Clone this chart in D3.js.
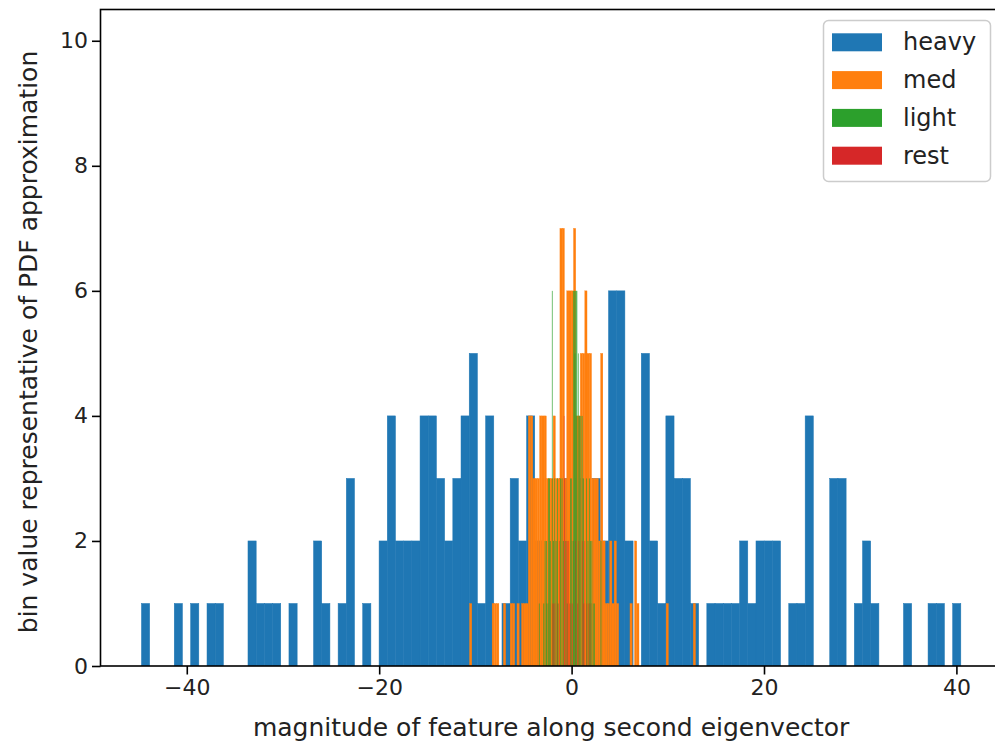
<!DOCTYPE html>
<html>
<head>
<meta charset="utf-8">
<script src="https://cdn.jsdelivr.net/npm/d3@7"></script>
<style>
  body { margin: 0; background: #fff; }
  svg { display: block; font-family: "DejaVu Sans", sans-serif; }
</style>
</head>
<body>
<svg id="chart" width="995" height="745"></svg>
<script>
// overlaid histograms, 100 bins each, counts

var seriesNames = ['heavy', 'med', 'light', 'rest'];
var seriesColors = ['#1f77b4', '#ff7f0e', '#2ca02c', '#d62728'];
// a thin outline in the fill colour hides the seams between touching bins
var seriesSeam = [0.5, 0.3, 0, 0];

// bin range [lo, hi] for each series
var heavyRange = [-44.71, 40.46];
var medRange = [-10.61, 12.88];
var lightRange = [-3.67, 3.09];
var restRange = [-2.21, 1.94];

var heavy = [1,0,0,0,1,0,1,0,1,1, 0,0,0,2,1,1,1,0,1,0, 0,2,1,0,1,3,0,1,0,2,
  4,2,2,2,4,4,3,2,3,4, 5,1,4,0,1,3,2,4,2,1, 2,3,2,3,1,3,2,6,6,2,
  0,5,2,1,4,3,3,1,0,1, 1,1,1,2,1,2,2,2,0,1, 1,4,0,0,3,3,0,1,2,1,
  0,0,0,1,0,0,1,1,0,1];
var med = [1,0,0,0,0,0,0,0,0,0, 1,1,1,0,0,1,0,0,1,1, 0,1,0,1,1,1,4,4,3,3,
  3,4,4,4,3,3,3,4,3,3, 7,7,3,6,6,6,7,4,4,5, 5,6,5,5,3,3,3,2,5,2,
  1,1,2,1,2,1,0,0,0,0, 0,1,0,2,1,0,0,0,0,0, 0,0,0,0,0,0,0,1,0,0,
  0,0,0,0,0,0,0,0,0,1];
var light = [0,0,0,0,1,0,0,0,0,0, 0,1,0,2,0,2,1,0,3,0, 3,2,0,0,6,0,2,0,3,0,
  2,0,3,1,0,0,0,3,0,3, 0,2,0,0,0,2,0,1,0,0, 0,0,3,0,3,0,2,6,6,5,
  6,6,6,0,5,0,4,0,4,0, 4,0,3,0,0,0,0,3,0,2, 0,3,0,2,0,2,0,1,0,1,
  0,0,0,0,0,0,0,0,0,2];
var rest = [0,0,0,0,0,1,0,0,1,0, 0,1,0,0,0,0,0,0,1,0, 0,0,2,0,0,0,0,0,0,0,
  0,0,0,0,4,0,3,0,0,2, 0,0,2,0,0,2,0,0,1,0, 0,1,0,0,0,1,0,0,0,0,
  0,0,0,2,0,0,0,1,0,0, 0,2,0,0,0,0,0,0,0,0, 2,0,0,1,0,0,2,0,0,0,
  0,1,0,0,0,0,1,0,0,1];

var xTicks = [-40, -20, 0, 20, 40];
var yTicks = [0, 2, 4, 6, 8, 10];
var xLabel = 'magnitude of feature along second eigenvector';
var yLabel = 'bin value representative of PDF approximation';

var svg = d3.select('#chart');
var plotLeft = 100.5, plotRight = 1001.8, plotTop = 9.5, plotBottom = 666;

var span = heavyRange[1] - heavyRange[0];
var xScale = d3.scaleLinear()
  .domain([heavyRange[0] - 0.05 * span, heavyRange[1] + 0.05 * span])
  .range([plotLeft, plotRight]);
var yScale = d3.scaleLinear()
  .domain([0, 10.5])
  .range([plotBottom, plotTop]);

svg.append('clipPath').attr('id', 'plotclip')
  .append('rect')
  .attr('x', plotLeft).attr('y', plotTop)
  .attr('width', plotRight - plotLeft).attr('height', plotBottom - plotTop);

var plot = svg.append('g').attr('clip-path', 'url(#plotclip)');

function toBins(values, range){
  var w = (range[1] - range[0]) / values.length;
  return values.map(function(v, i){
    return { x0: range[0] + i * w, x1: range[0] + (i + 1) * w, v: v };
  }).filter(function(b){ return b.v > 0; });
}

var allSeries = [
  toBins(heavy, heavyRange),
  toBins(med, medRange),
  toBins(light, lightRange),
  toBins(rest, restRange)
];

allSeries.forEach(function(bins, k){
  plot.append('g')
    .attr('fill', seriesColors[k])
    .attr('stroke', seriesSeam[k] ? seriesColors[k] : 'none')
    .attr('stroke-width', seriesSeam[k])
    .selectAll('rect')
    .data(bins)
    .enter()
    .append('rect')
    .attr('x', function(d){ return xScale(d.x0); })
    .attr('width', function(d){ return xScale(d.x1) - xScale(d.x0); })
    .attr('y', function(d){ return yScale(d.v); })
    .attr('height', function(d){ return yScale(0) - yScale(d.v); });
});

// axes
var xAxis = d3.axisBottom(xScale).tickValues(xTicks).tickSize(8.5).tickPadding(5);
var yAxis = d3.axisLeft(yScale).tickValues(yTicks).tickSize(8.5).tickPadding(4);

var gx = svg.append('g')
  .attr('transform', 'translate(0,' + plotBottom + ')')
  .call(xAxis);
var gy = svg.append('g')
  .attr('transform', 'translate(' + plotLeft + ',0)')
  .call(yAxis);

[gx, gy].forEach(function(g){
  g.select('.domain').remove();
  g.selectAll('.tick line').attr('stroke', '#000').attr('stroke-width', 1.6);
  g.selectAll('.tick text')
    .attr('fill', '#222')
    .style('font-size', '22px')
    .style('font-family', '"DejaVu Sans", sans-serif');
});

// spines
svg.append('rect')
  .attr('x', plotLeft).attr('y', plotTop)
  .attr('width', plotRight - plotLeft).attr('height', plotBottom - plotTop)
  .attr('fill', 'none')
  .attr('stroke', '#000')
  .attr('stroke-width', 1.6);

svg.append('text')
  .attr('x', (plotLeft + plotRight) / 2)
  .attr('y', 736)
  .attr('text-anchor', 'middle')
  .attr('fill', '#222')
  .style('font-size', '25px')
  .text(xLabel);

svg.append('text')
  .attr('transform', 'translate(28,342) rotate(-90)')
  .attr('text-anchor', 'middle')
  .attr('dominant-baseline', 'central')
  .attr('fill', '#222')
  .style('font-size', '25px')
  .text(yLabel);

// legend
var legend = svg.append('g');
legend.append('rect')
  .attr('x', 823.5).attr('y', 20.5)
  .attr('width', 167).attr('height', 161)
  .attr('rx', 5)
  .attr('fill', '#fff')
  .attr('fill-opacity', 0.8)
  .attr('stroke', '#ccc')
  .attr('stroke-width', 1.5);

var rowY = d3.scaleLinear().domain([0, 3]).range([42.3, 155.7]);
seriesNames.forEach(function(name, i){
  legend.append('rect')
    .attr('x', 832).attr('y', rowY(i) - 9)
    .attr('width', 50).attr('height', 18)
    .attr('fill', seriesColors[i]);
  legend.append('text')
    .attr('x', 903).attr('y', rowY(i))
    .attr('dominant-baseline', 'central')
    .attr('fill', '#222')
    .style('font-size', '24px')
    .text(name);
});
</script>
</body>
</html>
